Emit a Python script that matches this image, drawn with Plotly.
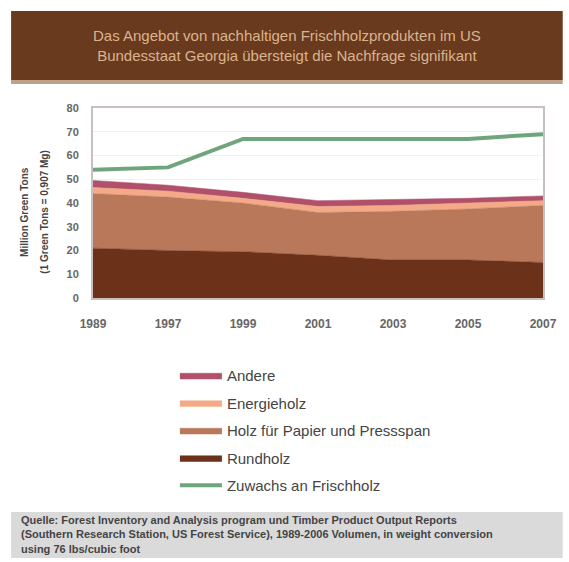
import plotly.graph_objects as go

years = ["1989", "1997", "1999", "2001", "2003", "2005", "2007"]
rundholz = [21, 20, 19.5, 18, 16, 16, 15]
papier = [23, 22.5, 20.5, 18, 20.5, 21.5, 24]
energie = [2.5, 2.5, 2, 2.5, 2.5, 2.5, 2]
andere = [3, 2.5, 2.5, 2.5, 2.5, 2, 2]
zuwachs = [54, 55, 67, 67, 67, 67, 69]

W, H = 569, 562
L, R, T, B = 93, 20, 108, 264
PW, PH = W - L - R, H - T - B


def px(x):
    return (x - L) / PW


def py(y):
    return (H - B - y) / PH


fig = go.Figure()
stack = [
    ("Rundholz", rundholz, "#6B3219", 4),
    ("Holz für Papier und Pressspan", papier, "#B9785A", 3),
    ("Energieholz", energie, "#F4AA86", 2),
    ("Andere", andere, "#B0506A", 1),
]
for name, vals, col, rank in stack:
    fig.add_trace(go.Scatter(
        x=years, y=vals, name=name, stackgroup="one", mode="lines",
        line=dict(color=col, width=0.5), fillcolor=col, legendrank=rank,
        legendgroup=name,
    ))
fig.add_trace(go.Scatter(
    x=years, y=zuwachs, name="Zuwachs an Frischholz", mode="lines",
    line=dict(color="#6FA57C", width=4), legendrank=5, legendgroup="z",
))

shapes = [
    dict(type="rect", xref="paper", yref="paper", x0=px(10), x1=px(569), y0=py(80), y1=py(11),
         fillcolor="#6A3A1F", line_width=0, layer="above"),
    dict(type="rect", xref="paper", yref="paper", x0=px(10), x1=px(569), y0=py(84), y1=py(80),
         fillcolor="#BFA08C", line_width=0, layer="above"),
    dict(type="rect", xref="paper", yref="paper", x0=px(10), x1=px(569), y0=py(558), y1=py(512),
         fillcolor="#DADADA", line_width=0, layer="below"),
]
annotations = [
    dict(xref="paper", yref="paper", x=px(290), y=py(45), xanchor="center", yanchor="middle",
         showarrow=False,
         text="Das Angebot von nachhaltigen Frischholzprodukten im US<br>Bundesstaat Georgia übersteigt die Nachfrage signifikant",
         font=dict(family="Liberation Sans, Arial", size=15, color="#D9B48E"), align="center"),
    dict(xref="paper", yref="paper", x=px(23), y=py(212), xanchor="center", yanchor="middle",
         showarrow=False, textangle=-90, text="<b>Million Green Tons</b>",
         font=dict(family="Liberation Sans, Arial", size=10, color="#444444")),
    dict(xref="paper", yref="paper", x=px(43), y=py(212), xanchor="center", yanchor="middle",
         showarrow=False, textangle=-90, text="<b>(1 Green Tons = 0,907 Mg)</b>",
         font=dict(family="Liberation Sans, Arial", size=10, color="#444444")),
    dict(xref="paper", yref="paper", x=px(18), y=py(534), xanchor="left", yanchor="middle",
         showarrow=False,
         text="<b>Quelle: Forest Inventory and Analysis program und Timber Product Output Reports</b><br><b>(Southern Research Station, US Forest Service), 1989-2006 Volumen, in weight conversion</b><br><b>using 76 lbs/cubic foot</b>",
         font=dict(family="Liberation Sans, Arial", size=11, color="#444444"), align="left"),
]

fig.update_layout(
    width=W, height=H,
    margin=dict(l=L, r=R, t=T, b=B),
    paper_bgcolor="white", plot_bgcolor="white",
    shapes=shapes, annotations=annotations,
    font=dict(family="Liberation Sans, Arial", color="#555555"),
    legend=dict(x=px(176), y=py(359), xanchor="left", yanchor="top", traceorder="grouped",
                font=dict(size=15, color="#444444"), itemwidth=42,
                tracegroupgap=5, bgcolor="rgba(0,0,0,0)"),
    xaxis=dict(type="category", range=[0, 6], showgrid=False, showline=True, linecolor="#C8C0C0",
               mirror=True, linewidth=2, ticks="", tickfont=dict(size=12, color="#666666"),
               tickprefix="<b>", ticksuffix="</b>", ticklabelstandoff=14),
    yaxis=dict(range=[0, 80], dtick=10, showgrid=True, gridcolor="#F2F2F2", showline=True,
               linecolor="#C8C0C0", mirror=True, linewidth=2, ticks="", zeroline=False,
               tickfont=dict(size=11, color="#666666"), tickprefix="<b>", ticksuffix="</b>",
               ticklabelstandoff=10),
)

fig.write_html("out.html")
